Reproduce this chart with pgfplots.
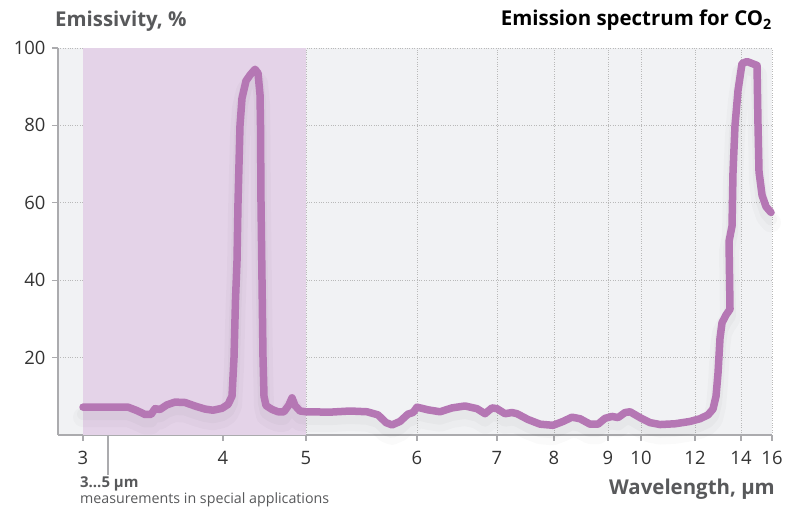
\documentclass[border=0pt]{standalone}
\usepackage{fontspec}
\setmainfont{Open Sans}
\usepackage{pgfplots}
\usepackage{pgfplotstable}
\pgfplotsset{compat=1.18}

\definecolor{curve}{HTML}{B577B4}
\definecolor{band}{HTML}{E4D3E8}
\definecolor{plotbg}{HTML}{F1F2F4}
\definecolor{axisgray}{HTML}{ABABAE}
\definecolor{titlegray}{HTML}{58595B}
\definecolor{ticktext}{HTML}{333333}

% x is the horizontal position on the (irregular) wavelength scale, in px
\pgfplotstableread{
x y
83 7.2
100 7.2
128 7.2
137 6.3
145 5.3
151 5.3
155 6.8
160 6.6
167 7.8
175 8.5
185 8.4
196 7.4
205 6.7
213 6.4
222 6.9
228 7.9
232 10
234 20
235.5 35
237 45
238 60
240 80
242 87
246 91.5
250 93
255 94.5
258 93.5
260 88
260.5 80
261 60
262 40
263 20
264 10
266 7.6
272 6.6
278 6.0
284 6.0
289 7.8
292 9.6
295 7.6
300 6.2
306 6.0
330 5.9
350 6.2
367 6.0
378 5.2
386 3.2
392 2.6
400 3.5
408 5.4
413 5.8
417 7.2
428 6.5
440 6.0
452 7.0
465 7.5
477 6.8
485 5.5
492 7.0
497 6.8
505 5.5
512 5.8
517 5.5
528 4.0
540 2.8
553 2.5
563 3.5
572 4.6
580 4.2
590 2.8
598 2.8
605 4.3
612 4.8
618 4.5
625 5.8
630 6.0
640 4.5
650 3.2
660 2.7
675 2.9
690 3.5
700 4.2
708 5.2
713 6.7
716 10
718 16
720 25
722 29
726 31
730 32.5
729 50
732 54
733 68
735 80
738 89
742 96
747 96.5
752 96
757 95.5
758 80
759 68
762 62
766 59
771 57.5
}\co

\begin{document}
\begin{tikzpicture}[x=1bp,y=1bp]
\path[use as bounding box] (0,0) rectangle (798,507);
\begin{axis}[
  at={(58bp,72bp)}, anchor=south west,
  scale only axis, width=714bp, height=387bp,
  xmin=58, xmax=772, ymin=0, ymax=100,
  clip=false,
  axis lines*=left,
  axis line style={-, draw=axisgray, line width=1.6bp},
  axis background/.style={fill=plotbg},
  xtick={83,223,306,417,497,554,608,641,695,741,772},
  xticklabels={3,4,5,6,7,8,9,10,12,14,16},
  ytick={20,40,60,80,100},
  tick align=outside,
  major tick length=6bp,
  major tick style={draw=axisgray, line width=1.2bp},
  grid=major,
  major grid style={draw=gray!55, dotted, line width=0.8bp},
  /pgf/number format/assume math mode=true,
  tick label style={font=\fontsize{18.5}{18.5}\selectfont, text=ticktext},
  xticklabel style={yshift=-7bp},
  yticklabel style={xshift=-3bp},
]
\addplot[fill=band, draw=none, forget plot] coordinates {(83,0) (83,100) (306,100) (306,0)} -- cycle;
\addplot[draw=black, opacity=0.02, line width=20bp, line join=round, line cap=round, yshift=-10bp] table {\co};
\addplot[draw=black, opacity=0.025, line width=12bp, line join=round, line cap=round, yshift=-7bp] table {\co};
\addplot[draw=curve, line width=7.5bp, line join=round, line cap=round] table {\co};
\end{axis}
\draw[axisgray, line width=1.2bp] (108,72) -- (108,32);
\node[anchor=base west, text=titlegray, font=\fontsize{20.5}{20.5}\selectfont\bfseries, inner sep=0] at (55,480) {Emissivity, \%};
\node[anchor=base east, text=black, font=\fontsize{20.5}{20.5}\selectfont\bfseries, inner sep=0] at (772,481) {Emission spectrum for CO\textsubscript{2}};
\node[anchor=base east, text=titlegray, font=\fontsize{20.5}{20.5}\selectfont\bfseries, inner sep=0] at (775,12) {Wavelength, µm};
\node[anchor=base west, text=titlegray, font=\fontsize{15}{15}\selectfont\bfseries, inner sep=0] at (80,19) {3…5 µm};
\node[anchor=base west, text=titlegray, font=\fontsize{14.3}{14.3}\selectfont, inner sep=0] at (80,3) {measurements in special applications};
\end{tikzpicture}
\end{document}
